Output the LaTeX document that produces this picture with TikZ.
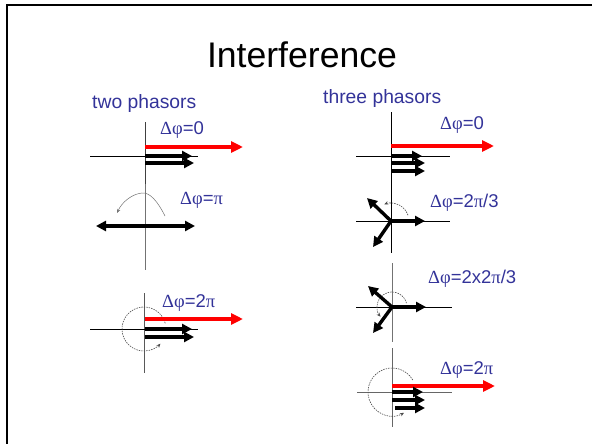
\documentclass[tikz,border=0pt]{standalone}
\usepackage{fontspec}
\setmainfont{Liberation Sans}
\newfontfamily\grk{Liberation Serif}
\usetikzlibrary{arrows.meta}
\definecolor{labblue}{RGB}{51,51,153}
\newcommand\dph[1]{{\grk Δφ}#1}
\tikzset{
  axis/.style={line width=1pt, draw=black!75},
  redph/.style={line width=3.8pt, draw=red, -{Triangle[length=12pt,width=11pt]}},
  blkph/.style={line width=3.4pt, draw=black, -{Triangle[length=10pt,width=10pt]}},
  turn/.style={line width=0.6pt, draw=black!70, dash pattern=on 1.5pt off 1pt, -{Stealth[length=4pt,width=3.5pt]}},
  turnsolid/.style={line width=0.5pt, draw=black!55, -{Stealth[length=4pt,width=3.5pt]}},
  lab/.style={anchor=base west, text=labblue, font=\fontsize{18.5}{20}\selectfont, inner sep=0pt},
  head/.style={anchor=base west, text=labblue, font=\fontsize{19.3}{22}\selectfont, inner sep=0pt},
}
\begin{document}
\begin{tikzpicture}[x=1pt,y=1pt]
\useasboundingbox (0,0) rectangle (592,-444);
% slide frame
\draw[line width=2pt] (7,-444) -- (7,-5) -- (592,-5);
% titles
\node[anchor=base, inner sep=0pt, font=\fontsize{35.6}{40}\selectfont] (title) at (302,-68) {Interference};
\node[head] (two) at (92,-108) {two phasors};
\node[head] (three) at (323,-103) {three phasors};

% ---- two phasors, in phase ----
\coordinate (a1) at (145,-156);
\coordinate (a1t) at (145,-122); \coordinate (a1b) at (145,-196);
\coordinate (a1l) at (90,-156); \coordinate (a1r) at (198,-156);
\draw[axis] (a1t) -- (a1b);
\draw[line width=1pt] (a1l) -- (a1r);
\coordinate (a1rs) at (145,-147); \coordinate (a1re) at (243,-147);
\draw[redph] (a1rs) -- (a1re);
\coordinate (a1p) at (145,-156); \coordinate (a1pe) at (192,-156);
\coordinate (a1q) at (145,-163); \coordinate (a1qe) at (194,-163);
\draw[blkph] (a1p) -- (a1pe);
\draw[blkph] (a1q) -- (a1qe);
\node[lab] (l1) at (160,-135) {\dph{=0}};

% ---- two phasors, opposite ----
\coordinate (a2) at (145,-226);
\coordinate (a2t) at (145,-184); \coordinate (a2b) at (145,-270);
\draw[axis, draw=black!55] (a2t) -- (a2b);
\coordinate (a2l) at (96,-226); \coordinate (a2r) at (195,-226);
\draw[blkph] (a2) -- (a2r);
\draw[blkph] (a2) -- (a2l);
\coordinate (a2s) at (165,-216); \coordinate (a2top) at (142,-193); \coordinate (a2e) at (117,-213);
\draw[turnsolid] (a2s) .. controls (158,-202) and (150,-192) .. (a2top)
  .. controls (132,-194) and (122,-202) .. (a2e);
\node[lab] (l2) at (180,-204) {\dph{=}{\grk π}};

% ---- two phasors, full turn ----
\coordinate (a3) at (144,-329);
\coordinate (a3t) at (144,-293); \coordinate (a3b) at (144,-373);
\coordinate (a3l) at (90,-329); \coordinate (a3r) at (198,-329);
\draw[axis, draw=black!65] (a3t) -- (a3b);
\draw[line width=1pt] (a3l) -- (a3r);
\draw[turn] ([shift={(15:22)}]a3) arc[start angle=15, end angle=318, radius=22];
\coordinate (a3rs) at (145,-319); \coordinate (a3re) at (243,-319);
\draw[redph] (a3rs) -- (a3re);
\coordinate (a3p) at (145,-329); \coordinate (a3pe) at (192,-329);
\coordinate (a3q) at (145,-337); \coordinate (a3qe) at (194,-337);
\draw[blkph] (a3p) -- (a3pe);
\draw[blkph] (a3q) -- (a3qe);
\node[lab] (l3) at (162,-307) {\dph{=2}{\grk π}};

% ---- three phasors, in phase ----
\coordinate (b1) at (391,-156);
\coordinate (b1t) at (391,-112); \coordinate (b1b) at (391,-186);
\coordinate (b1l) at (356,-156); \coordinate (b1r) at (450,-156);
\draw[line width=1pt] (b1t) -- (b1b);
\draw[line width=1pt] (b1l) -- (b1r);
\coordinate (b1rs) at (391,-146); \coordinate (b1re) at (494,-146);
\draw[redph] (b1rs) -- (b1re);
\coordinate (b1p) at (391,-156); \coordinate (b1pe) at (422,-156);
\coordinate (b1q) at (391,-163); \coordinate (b1qe) at (425,-163);
\coordinate (b1u) at (391,-171); \coordinate (b1ue) at (425,-171);
\draw[blkph] (b1p) -- (b1pe);
\draw[blkph] (b1q) -- (b1qe);
\draw[blkph] (b1u) -- (b1ue);
\node[lab] (r1) at (440,-129) {\dph{=0}};

% ---- three phasors, 2pi/3 ----
\coordinate (b2) at (391,-221);
\coordinate (b2t) at (391,-180); \coordinate (b2b) at (391,-253);
\coordinate (b2l) at (356,-221); \coordinate (b2r) at (450,-221);
\draw[line width=1pt] (b2t) -- (b2b);
\draw[line width=1pt] (b2l) -- (b2r);
\draw[turn] ([shift={(19:18)}]b2) arc[start angle=19, end angle=112, radius=18];
\coordinate (b2e1) at (425,-221);
\coordinate (b2e2) at (367,-198);
\coordinate (b2e3) at (373,-247);
\draw[blkph] (b2) -- (b2e1);
\draw[blkph] (b2) -- (b2e2);
\draw[blkph] (b2) -- (b2e3);
\node[lab] (r2) at (430,-207) {\dph{=2}{\grk π}/3};

% ---- three phasors, 2x2pi/3 ----
\coordinate (b3) at (392,-307);
\coordinate (b3t) at (392,-263); \coordinate (b3b) at (392,-342);
\coordinate (b3l) at (356,-307); \coordinate (b3r) at (452,-307);
\draw[axis, draw=black!55] (b3t) -- (b3b);
\draw[line width=1pt] (b3l) -- (b3r);
\draw[turn] ([shift={(15:15)}]b3) arc[start angle=15, end angle=220, radius=15];
\coordinate (b3e1) at (426,-307);
\coordinate (b3e2) at (368,-286);
\coordinate (b3e3) at (373,-333);
\draw[blkph] (b3) -- (b3e1);
\draw[blkph] (b3) -- (b3e2);
\draw[blkph] (b3) -- (b3e3);
\node[lab] (r3) at (428,-283) {\dph{=2x2}{\grk π}/3};

% ---- three phasors, full turn ----
\coordinate (b4) at (392,-392);
\coordinate (b4t) at (392,-348); \coordinate (b4b) at (392,-427);
\coordinate (b4l) at (357,-392); \coordinate (b4r) at (452,-392);
\draw[axis, draw=black!60] (b4t) -- (b4b);
\draw[axis, draw=black!60] (b4l) -- (b4r);
\draw[turn] ([shift={(30:24)}]b4) arc[start angle=30, end angle=300, radius=24];
\coordinate (b4rs) at (392,-386); \coordinate (b4re) at (495,-386);
\draw[redph] (b4rs) -- (b4re);
\coordinate (b4p) at (392,-392); \coordinate (b4pe) at (423,-392);
\coordinate (b4q) at (392,-400); \coordinate (b4qe) at (425,-400);
\coordinate (b4u) at (395,-408); \coordinate (b4ue) at (425,-408);
\draw[blkph] (b4p) -- (b4pe);
\draw[blkph] (b4q) -- (b4qe);
\draw[blkph] (b4u) -- (b4ue);
\node[lab] (r4) at (440,-374) {\dph{=2}{\grk π}};
\end{tikzpicture}
\end{document}
